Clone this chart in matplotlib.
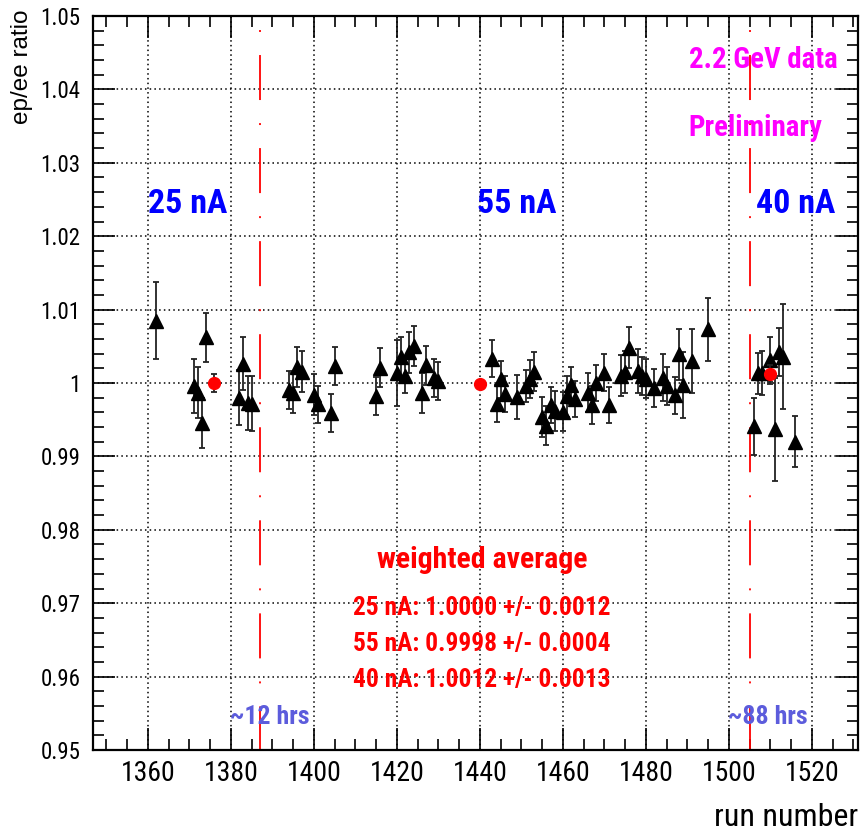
import numpy as np
import matplotlib.pyplot as plt
from matplotlib.ticker import MultipleLocator, FuncFormatter

# Data: per-run ep/ee ratio (triangles)
runs = [1362, 1371, 1372, 1373, 1374, 1382, 1383, 1384, 1385,
        1394, 1395, 1396, 1397, 1400, 1401, 1404, 1405,
        1415, 1416, 1420, 1421, 1422, 1423, 1424, 1426, 1427, 1429, 1430,
        1443, 1444, 1445, 1446, 1449, 1451, 1452, 1453, 1455, 1456, 1457, 1458,
        1460, 1461, 1462, 1463, 1466, 1467, 1468, 1470, 1471, 1474, 1475, 1476,
        1478, 1479, 1480, 1482, 1484, 1485, 1487, 1488, 1489, 1491, 1495,
        1506, 1507, 1508, 1510, 1511, 1512, 1513, 1516]
ratio = [1.0085, 0.99955, 0.9987, 0.99455, 1.0062, 0.9980, 1.0026, 0.9973, 0.9972,
         0.9991, 0.9986, 1.00215, 1.00155, 0.9984, 0.9971, 0.9959, 1.0023,
         0.9982, 1.0021, 1.0013, 1.0035, 1.0010, 1.0042, 1.0050, 0.9986, 1.0024, 1.0007, 1.0003,
         1.0033, 0.9972, 1.0005, 0.9985, 0.9981, 0.99955, 1.0005, 1.00155, 0.9954, 0.9942, 0.9970, 0.9962,
         0.9961, 0.9982, 0.9997, 0.9978, 0.9987, 0.9970, 1.0000, 1.0014, 0.9970, 1.0010, 1.0015, 1.0048,
         1.0017, 1.0010, 1.0006, 0.9993, 1.0007, 0.9996, 0.9983, 1.0039, 0.9997, 1.0030, 1.0073,
         0.9941, 1.0013, 1.0013, 1.0032, 0.9937, 1.0042, 1.0036, 0.9920]
ratio_err = [0.0052, 0.0037, 0.0035, 0.00345, 0.0033, 0.00375, 0.0036, 0.0037, 0.0037,
             0.0026, 0.0027, 0.0027, 0.0028, 0.0028, 0.0025, 0.0026, 0.0026,
             0.0026, 0.0027, 0.0045, 0.0027, 0.0024, 0.0028, 0.0027, 0.0027, 0.0027, 0.0026, 0.0026,
             0.0025, 0.0025, 0.0025, 0.0025, 0.0030, 0.0022, 0.0026, 0.0027, 0.0027, 0.0027, 0.0025, 0.0027,
             0.0027, 0.0028, 0.0025, 0.0025, 0.0026, 0.0026, 0.0025, 0.0025, 0.0025, 0.0028, 0.0028, 0.0028,
             0.0030, 0.0026, 0.0027, 0.0026, 0.0032, 0.0026, 0.0025, 0.0035, 0.0045, 0.0043, 0.0043,
             0.0039, 0.0028, 0.0030, 0.0031, 0.0070, 0.0033, 0.0071, 0.0035]

# Weighted averages (red circles)
avg_runs = [1376, 1440, 1510]
avg_ratio = [1.0000, 0.9998, 1.0012]
avg_err = [0.0012, 0.0004, 0.0013]

# Current change boundaries
boundaries = [1387, 1505]

plt.rcParams['font.family'] = ['Roboto Condensed', 'DejaVu Sans']
plt.rcParams['lines.scale_dashes'] = False

W, H = 860, 833


def px(x, y):
    return x / W, 1 - y / H


fig = plt.figure(figsize=(W / 100, H / 100), dpi=100)
ax = fig.add_axes([93 / W, 1 - 750 / H, 765 / W, 734 / H])

ax.set_xlim(1346.75, 1531.1)
ax.set_ylim(0.95, 1.05)

ax.xaxis.set_major_locator(MultipleLocator(20))
ax.xaxis.set_minor_locator(MultipleLocator(5))
ax.yaxis.set_major_locator(MultipleLocator(0.01))
ax.yaxis.set_minor_locator(MultipleLocator(0.002))
ax.yaxis.set_major_formatter(FuncFormatter(lambda v, p: f'{round(v, 3):g}'))

ax.grid(True, which='major', color='black', linestyle=(0, (1.1, 2.3)), linewidth=1.1)
ax.set_axisbelow(True)

ax.tick_params(which='both', direction='in', top=True, right=True, width=1.2)
ax.tick_params(which='major', length=16)
ax.tick_params(which='minor', length=8)
ax.tick_params(axis='x', labelsize=20, pad=7)
ax.tick_params(axis='y', labelsize=16.5, pad=9)
for s in ax.spines.values():
    s.set_linewidth(1.6)

# boundaries between beam currents
for b in boundaries:
    ax.plot([b, b], [1.05, 0.95], color='red', lw=1.3,
            linestyle=(38.9, (32.4, 16.6, 1.4, 16.6)))

ax.errorbar(runs, ratio, yerr=ratio_err, fmt='^', color='black', ms=10,
            ecolor='#222222', elinewidth=1.3, capsize=2.2, capthick=1.3)
ax.errorbar(avg_runs, avg_ratio, yerr=avg_err, fmt='o', color='red', ms=8.5,
            ecolor='#222222', elinewidth=1.3, capsize=2.2, capthick=1.3, zorder=5)

magenta = '#ff00ff'
fig.text(*px(763, 68), '2.2 GeV data', color=magenta, fontsize=20.8, fontweight='bold',
         ha='center', va='baseline')
fig.text(*px(755, 136), 'Preliminary', color=magenta, fontsize=20.8, fontweight='bold',
         ha='center', va='baseline')

for label, xc in [('25 nA', 188), ('55 nA', 517), ('40 nA', 796)]:
    fig.text(*px(xc, 213), label, color='#0000ff', fontsize=24.5, fontweight='bold',
             ha='center', va='baseline')

fig.text(*px(482, 568), 'weighted average', color='red', fontsize=21.5, fontweight='bold',
         ha='center', va='baseline')
for line, yb in [('25 nA: 1.0000 +/- 0.0012', 615),
                 ('55 nA: 0.9998 +/- 0.0004', 651),
                 ('40 nA: 1.0012 +/- 0.0013', 687)]:
    fig.text(*px(482, yb), line, color='red', fontsize=18.3, fontweight='bold',
             ha='center', va='baseline')

hrs_color = '#5c5cdc'
fig.text(*px(270, 724), '~12 hrs', color=hrs_color, fontsize=18.6, fontweight='bold',
         ha='center', va='baseline')
fig.text(*px(768, 724), '~88 hrs', color=hrs_color, fontsize=18.6, fontweight='bold',
         ha='center', va='baseline')

fig.text(*px(858, 826), 'run number', fontsize=23, ha='right', va='baseline')
fig.text(*px(22, 10), 'ep/ee ratio', fontsize=17.5, rotation=90, ha='center', va='top',
         family=['Liberation Sans', 'DejaVu Sans'])

fig.savefig('out.png', dpi=100)
